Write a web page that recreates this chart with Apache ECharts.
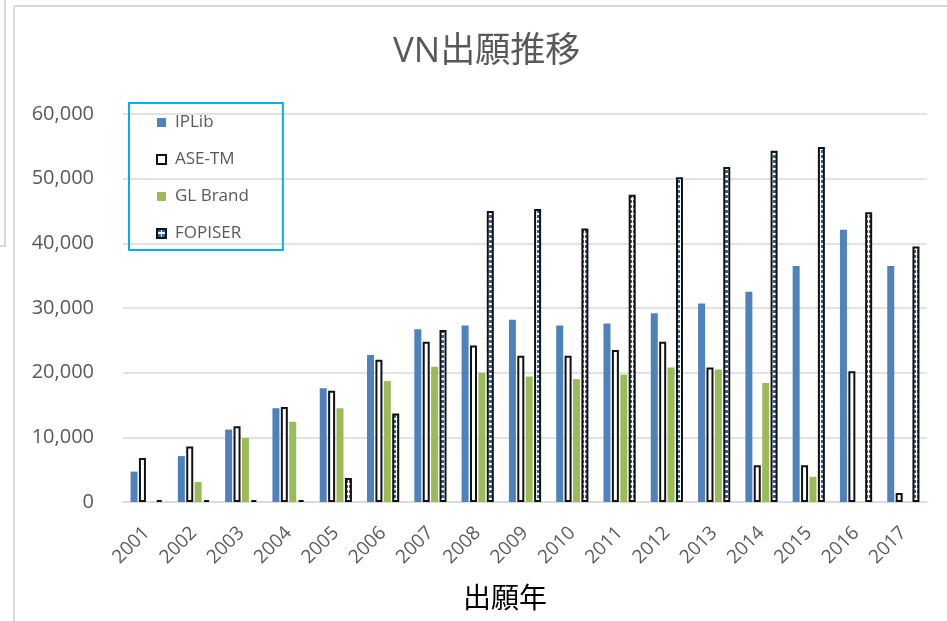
<!DOCTYPE html>
<html>
<head>
<meta charset="utf-8">
<script src="https://cdn.jsdelivr.net/npm/echarts@6/dist/echarts.min.js"></script>
<style>
html,body{margin:0;padding:0;background:#fff;}
#chart{width:947px;height:621px;}
</style>
</head>
<body>
<div id="chart"></div>
<script>
const categories = ['2001','2002','2003','2004','2005','2006','2007','2008','2009','2010','2011','2012','2013','2014','2015','2016','2017'];
const ipLib   = [4700, 7100, 11200, 14500, 17600, 22750, 26700, 27300, 28200, 27300, 27600, 29200, 30700, 32500, 36500, 42100, 36500];
const aseTm   = [6800, 8600, 11700, 14700, 17200, 22000, 24800, 24200, 22600, 22600, 23500, 24800, 20800, 5700, 5700, 20200, 1400];
const glBrand = [0, 3100, 9900, 12400, 14500, 18700, 20900, 20000, 19400, 19000, 19700, 20800, 20500, 18400, 3900, 0, 0];
const fopiser = [300, 300, 300, 300, 3700, 13700, 26600, 45000, 45300, 42300, 47500, 50200, 51800, 54300, 54900, 44800, 39500];
const yTicks = [0, 10000, 20000, 30000, 40000, 50000, 60000];

const FONT = '"Open Sans", "Noto Sans CJK JP", sans-serif';

function makePattern() {
  const c = document.createElement('canvas');
  c.width = 4; c.height = 5;
  const ctx = c.getContext('2d');
  ctx.fillStyle = '#ffffff';
  ctx.fillRect(0, 0, 4, 5);
  ctx.fillStyle = '#2a63ad';
  ctx.fillRect(1, 0, 3, 3);
  return c;
}
const pattern = { image: makePattern(), repeat: 'repeat' };

const chart = echarts.init(document.getElementById('chart'), null, { renderer: 'canvas' });
chart.setOption({
  animation: false,
  backgroundColor: '#ffffff',
  textStyle: { fontFamily: FONT },
  title: {
    text: 'VN出願推移',
    left: 388,
    top: 30,
    textStyle: { fontSize: 35, fontWeight: 'normal', color: '#595959', fontFamily: FONT }
  },
  legend: {
    orient: 'vertical',
    left: 129,
    top: 103,
    padding: [11, 34, 8, 27],
    itemGap: 20,
    itemWidth: 9,
    itemHeight: 9,
    icon: 'rect',
    borderColor: '#00b0f0',
    borderWidth: 2,
    textStyle: { fontSize: 17, color: '#595959', fontFamily: FONT, padding: [0, 0, 0, 4] },
    data: ['IPLib', 'ASE-TM', 'GL Brand', 'FOPISER']
  },
  graphic: [
    { type: 'line', shape: { x1: 14, y1: 6, x2: 947, y2: 6 }, style: { stroke: '#d9d9d9', lineWidth: 2 } },
    { type: 'line', shape: { x1: 14, y1: 6, x2: 14, y2: 621 }, style: { stroke: '#d9d9d9', lineWidth: 2 } },
    { type: 'line', shape: { x1: 5, y1: 0, x2: 5, y2: 246 }, style: { stroke: '#d9d9d9', lineWidth: 2 } },
    { type: 'line', shape: { x1: 0, y1: 246, x2: 6, y2: 246 }, style: { stroke: '#d9d9d9', lineWidth: 2 } }
  ],
  grid: { left: 123, right: 20, top: 114, bottom: 119, containLabel: false },
  xAxis: {
    type: 'category',
    data: categories,
    name: '出願年',
    nameLocation: 'middle',
    nameGap: 84,
    nameTextStyle: { fontSize: 28, color: '#000000', fontFamily: FONT, padding: [0, 40, 0, 0] },
    axisLine: { lineStyle: { color: '#d9d9d9', width: 1.5 } },
    axisTick: { show: false },
    axisLabel: { rotate: 45, fontSize: 19, color: '#595959', margin: 28, interval: 0, fontFamily: FONT }
  },
  yAxis: {
    type: 'value',
    min: yTicks[0],
    max: yTicks[yTicks.length - 1],
    interval: yTicks[1] - yTicks[0],
    axisLine: { show: false },
    axisTick: { show: false },
    splitLine: { lineStyle: { color: '#d9d9d9', width: 1.5 } },
    axisLabel: {
      fontSize: 20, color: '#595959', margin: 29, fontFamily: FONT,
      formatter: v => v.toLocaleString('en-US')
    }
  },
  series: [
    { name: 'IPLib', type: 'bar', data: ipLib, barWidth: 7, barGap: '20%',
      itemStyle: { color: '#4f81bd' } },
    { name: 'ASE-TM', type: 'bar', data: aseTm, barWidth: 7, barGap: '20%',
      itemStyle: { color: '#ffffff', borderColor: '#111111', borderWidth: 2 } },
    { name: 'GL Brand', type: 'bar', data: glBrand, barWidth: 7, barGap: '20%',
      itemStyle: { color: '#9bbb59' } },
    { name: 'FOPISER', type: 'bar', data: fopiser, barWidth: 7, barGap: '20%',
      itemStyle: { color: pattern, borderColor: '#111111', borderWidth: 2 } }
  ]
});
</script>
</body>
</html>
